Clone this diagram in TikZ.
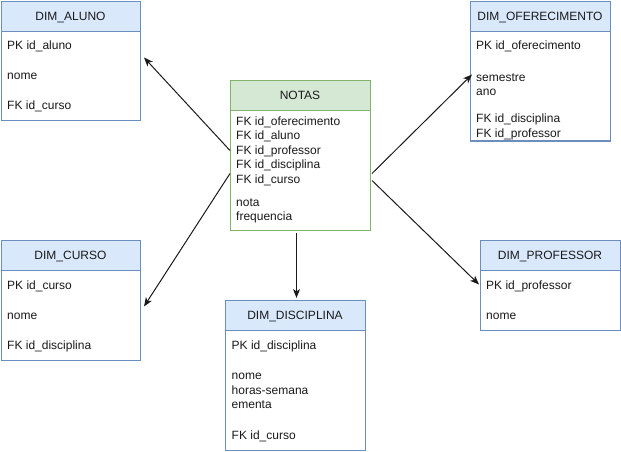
\documentclass[tikz,border=0pt]{standalone}
\usepackage{fontspec}
\setmainfont{Liberation Sans}
\usetikzlibrary{arrows.meta}
\definecolor{blueline}{HTML}{6C8EBF}
\definecolor{bluefill}{HTML}{DAE8FC}
\definecolor{greenline}{HTML}{82B366}
\definecolor{greenfill}{HTML}{D5E8D4}
\definecolor{ink}{HTML}{1A1A1A}
\begin{document}
\begin{tikzpicture}[x=1pt, y=-1pt,
  font=\fontsize{12}{14.4}\selectfont,
  tbl/.style={draw=blueline, fill=white, line width=1pt, inner sep=0pt,
              minimum width=140pt, anchor=north west},
  hdr/.style={draw=blueline, fill=bluefill, line width=1pt, inner sep=0pt,
              minimum width=140pt, minimum height=30pt, anchor=north west},
  facttbl/.style={tbl, draw=greenline},
  facthdr/.style={hdr, draw=greenline, fill=greenfill},
  ttl/.style={anchor=base, inner sep=0pt, text=ink},
  fld/.style={anchor=base west, inner sep=0pt, text=ink},
  link/.style={draw=ink, line width=1pt, -{Stealth[length=9pt,width=7pt,inset=2.5pt]}}
]
\useasboundingbox (0,0) rectangle (621,451);

% ---- DIM_ALUNO ----
\node[tbl, minimum width=139pt, minimum height=119pt] (aluno) at (1,1) {};
\node[hdr, minimum width=139pt] (alunoH) at (1,1) {};
\node[ttl] (alunoT) at (70.5,20) {DIM\_ALUNO};
\node[fld] (alunoA) at (7,49) {PK id\_aluno};
\node[fld] (alunoB) at (7,79) {nome};
\node[fld] (alunoC) at (7,109) {FK id\_curso};

% ---- NOTAS (fact table) ----
\node[facttbl, minimum height=150pt] (notas) at (230,80) {};
\node[facthdr] (notasH) at (230,80) {};
\node[ttl] (notasT) at (300,99) {NOTAS};
\node[fld] (notasA) at (236,125.5) {FK id\_oferecimento};
\node[fld] (notasB) at (236,139.9) {FK id\_aluno};
\node[fld] (notasC) at (236,154.3) {FK id\_professor};
\node[fld] (notasD) at (236,168.7) {FK id\_disciplina};
\node[fld] (notasE) at (236,183.1) {FK id\_curso};
\node[fld] (notasF) at (236,206.5) {nota};
\node[fld] (notasG) at (236,220.9) {frequencia};

% ---- DIM_OFERECIMENTO ----
\node[tbl, minimum height=139pt] (ofer) at (470,1) {};
\node[hdr] (oferH) at (470,1) {};
\node[ttl] (oferT) at (540,20) {DIM\_OFERECIMENTO};
\node[fld] (oferA) at (476,49) {PK id\_oferecimento};
\node[fld] (oferB) at (476,81.5) {semestre};
\node[fld] (oferC) at (476,95.9) {ano};
\node[fld] (oferD) at (476,122.7) {FK id\_disciplina};
\node[fld] (oferE) at (476,137.1) {FK id\_professor};
\draw[draw=blueline, line width=1pt] (ofer.south west) -- (ofer.south east);

% ---- DIM_CURSO ----
\node[tbl, minimum width=139pt, minimum height=120pt] (curso) at (1,240) {};
\node[hdr, minimum width=139pt] (cursoH) at (1,240) {};
\node[ttl] (cursoT) at (70.5,259) {DIM\_CURSO};
\node[fld] (cursoA) at (7,289) {PK id\_curso};
\node[fld] (cursoB) at (7,319) {nome};
\node[fld] (cursoC) at (7,349) {FK id\_disciplina};

% ---- DIM_DISCIPLINA ----
\node[tbl, minimum height=150pt] (disc) at (225,300) {};
\node[hdr] (discH) at (225,300) {};
\node[ttl] (discT) at (295,319) {DIM\_DISCIPLINA};
\node[fld] (discA) at (231.5,349) {PK id\_disciplina};
\node[fld] (discB) at (231.5,379.6) {nome};
\node[fld] (discC) at (231.5,394) {horas-semana};
\node[fld] (discD) at (231.5,408.4) {ementa};
\node[fld] (discE) at (231.5,439) {FK id\_curso};

% ---- DIM_PROFESSOR ----
\node[tbl, minimum height=90pt] (prof) at (480,240) {};
\node[hdr] (profH) at (480,240) {};
\node[ttl] (profT) at (550,259) {DIM\_PROFESSOR};
\node[fld] (profA) at (486,289) {PK id\_professor};
\node[fld] (profB) at (486,319) {nome};

% ---- relationships from the fact table ----
\draw[link] ([yshift=5pt]notas.west) -- ([xshift=3pt,yshift=3.5pt]aluno.east);
\draw[link] ([yshift=-18pt]notas.west) -- ([xshift=3pt,yshift=-6pt]curso.east);
\draw[link] ([xshift=-4pt,yshift=-2pt]notas.south) -- ([xshift=1pt,yshift=2pt]disc.north);
\draw[link] ([xshift=1pt,yshift=-18pt]notas.east) -- ([xshift=2pt,yshift=-3.5pt]ofer.west);
\draw[link] ([xshift=1pt,yshift=-25pt]notas.east) -- ([xshift=-1pt,yshift=1pt]prof.west);
\end{tikzpicture}
\end{document}
